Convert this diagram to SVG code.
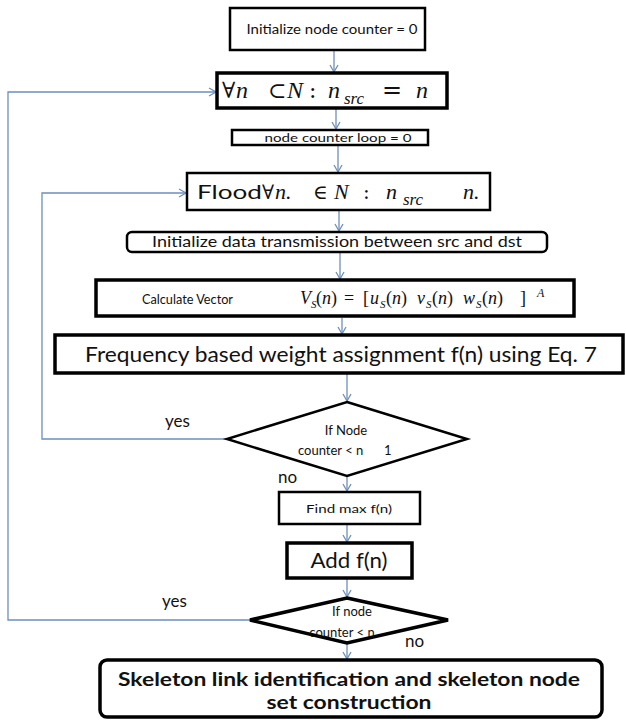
<svg xmlns="http://www.w3.org/2000/svg" width="626" height="720" viewBox="0 0 626 720">
<defs>
<style>
.box{fill:#fff;stroke:#000;stroke-width:2.5}
.thick{fill:#fff;stroke:#000;stroke-width:3.5}
.t{font-family:Lato,"Open Sans","Liberation Sans",sans-serif;fill:#111}
.m{font-family:"Liberation Serif","DejaVu Serif",serif;font-style:italic;fill:#111}
.u{font-family:"DejaVu Serif","Liberation Serif",serif;fill:#111}
.c{fill:none;stroke:#6d8fbb;stroke-width:1.3}
</style>
<marker id="ah" markerWidth="10" markerHeight="10" refX="8" refY="5" orient="auto" markerUnits="userSpaceOnUse">
<path d="M1,1 L8,5 L1,9" fill="none" stroke="#6d8fbb" stroke-width="1.3"/>
</marker>
</defs>
<rect width="626" height="720" fill="#fff"/>

<g id="connectors">
<line class="c" x1="334" y1="51" x2="334" y2="72" marker-end="url(#ah)"/>
<line class="c" x1="336" y1="109" x2="336" y2="129" marker-end="url(#ah)"/>
<line class="c" x1="338" y1="146" x2="338" y2="172" marker-end="url(#ah)"/>
<line class="c" x1="339" y1="211" x2="339" y2="231" marker-end="url(#ah)"/>
<line class="c" x1="340" y1="253" x2="340" y2="279" marker-end="url(#ah)"/>
<line class="c" x1="342" y1="318" x2="342" y2="334" marker-end="url(#ah)"/>
<line class="c" x1="347" y1="374" x2="347" y2="401" marker-end="url(#ah)"/>
<line class="c" x1="347" y1="477" x2="347" y2="491" marker-end="url(#ah)"/>
<line class="c" x1="347" y1="525" x2="347" y2="542" marker-end="url(#ah)"/>
<line class="c" x1="347" y1="579" x2="347" y2="597" marker-end="url(#ah)"/>
<line class="c" x1="347" y1="644" x2="347" y2="659" marker-end="url(#ah)"/>
<polyline class="c" points="250,620 8,620 8,92 216,92" marker-end="url(#ah)"/>
<polyline class="c" points="227,439 42,439 42,193 186,193" marker-end="url(#ah)"/>
</g>

<g id="n1">
<rect class="box" x="230" y="8" width="195" height="42"/>
<text class="t" x="332" y="34" font-size="12.5" text-anchor="middle" textLength="171" lengthAdjust="spacingAndGlyphs">Initialize node counter = 0</text>
</g>

<g id="n2">
<rect class="thick" x="217" y="73" width="230" height="35"/>
<text class="u" x="222" y="98" font-size="22">∀</text>
<text class="m" x="236" y="98" font-size="24">n</text>
<text class="u" x="268" y="98" font-size="22">⊂</text>
<text class="m" x="287" y="98" font-size="24">N</text>
<text class="u" x="309" y="98" font-size="22">:</text>
<text class="m" x="328" y="98" font-size="24">n</text>
<text class="m" x="344" y="104" font-size="17">src</text>
<text class="u" x="382" y="98" font-size="24">=</text>
<text class="m" x="416" y="98" font-size="24">n</text>
</g>

<g id="n3">
<rect class="box" x="232" y="130" width="196" height="15"/>
<text class="t" x="338" y="142" font-size="12" text-anchor="middle" textLength="147" lengthAdjust="spacingAndGlyphs">node counter loop = 0</text>
</g>

<g id="n4">
<rect class="box" x="187" y="173" width="303" height="37"/>
<text class="t" x="197" y="199" font-size="20" textLength="65" lengthAdjust="spacingAndGlyphs">Flood</text>
<text class="u" x="262" y="199" font-size="20">∀</text>
<text class="m" x="275" y="199" font-size="22">n.</text>
<text class="u" x="313" y="199" font-size="20">∈</text>
<text class="m" x="334" y="199" font-size="22">N</text>
<text class="u" x="363" y="199" font-size="20">:</text>
<text class="m" x="386" y="199" font-size="22">n</text>
<text class="m" x="403" y="205" font-size="17">src</text>
<text class="m" x="463" y="199" font-size="22">n.</text>
</g>

<g id="n5">
<rect class="box" x="127" y="232" width="420" height="20" rx="5"/>
<text class="t" x="337" y="247" font-size="16" text-anchor="middle" textLength="370" lengthAdjust="spacingAndGlyphs">Initialize data transmission between src and dst</text>
</g>

<g id="n6">
<rect class="thick" x="96" y="280" width="478" height="36"/>
<text class="t" x="142" y="304" font-size="14" textLength="91" lengthAdjust="spacingAndGlyphs">Calculate Vector</text>
<text class="m" font-size="18" y="304"><tspan x="300">V</tspan><tspan x="311" y="308" font-size="11">S</tspan><tspan x="316" y="304" font-style="normal">(</tspan><tspan>n</tspan><tspan font-style="normal">)</tspan><tspan x="344" font-style="normal">=</tspan><tspan x="363" font-style="normal">[</tspan><tspan x="370">u</tspan><tspan x="380" y="308" font-size="11">S</tspan><tspan x="386" y="304" font-style="normal">(</tspan><tspan>n</tspan><tspan font-style="normal">)</tspan><tspan x="417">v</tspan><tspan x="426" y="308" font-size="11">S</tspan><tspan x="432" y="304" font-style="normal">(</tspan><tspan>n</tspan><tspan font-style="normal">)</tspan><tspan x="463">w</tspan><tspan x="476" y="308" font-size="11">S</tspan><tspan x="482" y="304" font-style="normal">(</tspan><tspan>n</tspan><tspan font-style="normal">)</tspan><tspan x="520" font-style="normal">]</tspan><tspan x="537" y="297" font-size="12">A</tspan></text>
</g>

<g id="n7">
<rect class="thick" x="55" y="335" width="568" height="38"/>
<text class="t" x="341" y="362" font-size="22" text-anchor="middle" textLength="512" lengthAdjust="spacingAndGlyphs">Frequency based weight assignment f(n) using Eq. 7</text>
</g>

<g id="d1">
<polygon class="box" points="347,402 467,439 347,476 227,439"/>
<text class="t" x="346" y="435" font-size="13" text-anchor="middle">If Node</text>
<text class="t" x="298" y="455" font-size="13">counter &lt; n</text>
<text class="t" x="384" y="455" font-size="13">1</text>
</g>

<g id="n8">
<rect class="box" x="279" y="492" width="141" height="32"/>
<text class="t" x="349" y="513" font-size="12" text-anchor="middle" textLength="86" lengthAdjust="spacingAndGlyphs">Find max f(n)</text>
</g>

<g id="n9">
<rect class="thick" x="287" y="543" width="125" height="35"/>
<text class="t" x="349" y="568" font-size="21" text-anchor="middle" textLength="77" lengthAdjust="spacingAndGlyphs">Add f(n)</text>
</g>

<g id="d2">
<polygon class="thick" points="347,598 448,620 347,643 250,620"/>
<text class="t" x="352" y="616" font-size="13" text-anchor="middle">If node</text>
<text class="t" x="342" y="637" font-size="13" text-anchor="middle">counter &lt; n</text>
</g>

<g id="n10">
<rect class="thick" x="100" y="660" width="502" height="57" rx="7"/>
<text class="t" x="349" y="686" font-size="19" font-weight="bold" text-anchor="middle" textLength="462" lengthAdjust="spacingAndGlyphs">Skeleton link identification and skeleton node</text>
<text class="t" x="349" y="709" font-size="19" font-weight="bold" text-anchor="middle" textLength="165" lengthAdjust="spacingAndGlyphs">set construction</text>
</g>

<g id="labels">
<text class="t" x="165" y="427" font-size="17">yes</text>
<text class="t" x="278" y="483" font-size="17">no</text>
<text class="t" x="162" y="607" font-size="17">yes</text>
<text class="t" x="405" y="647" font-size="17">no</text>
</g>
</svg>
